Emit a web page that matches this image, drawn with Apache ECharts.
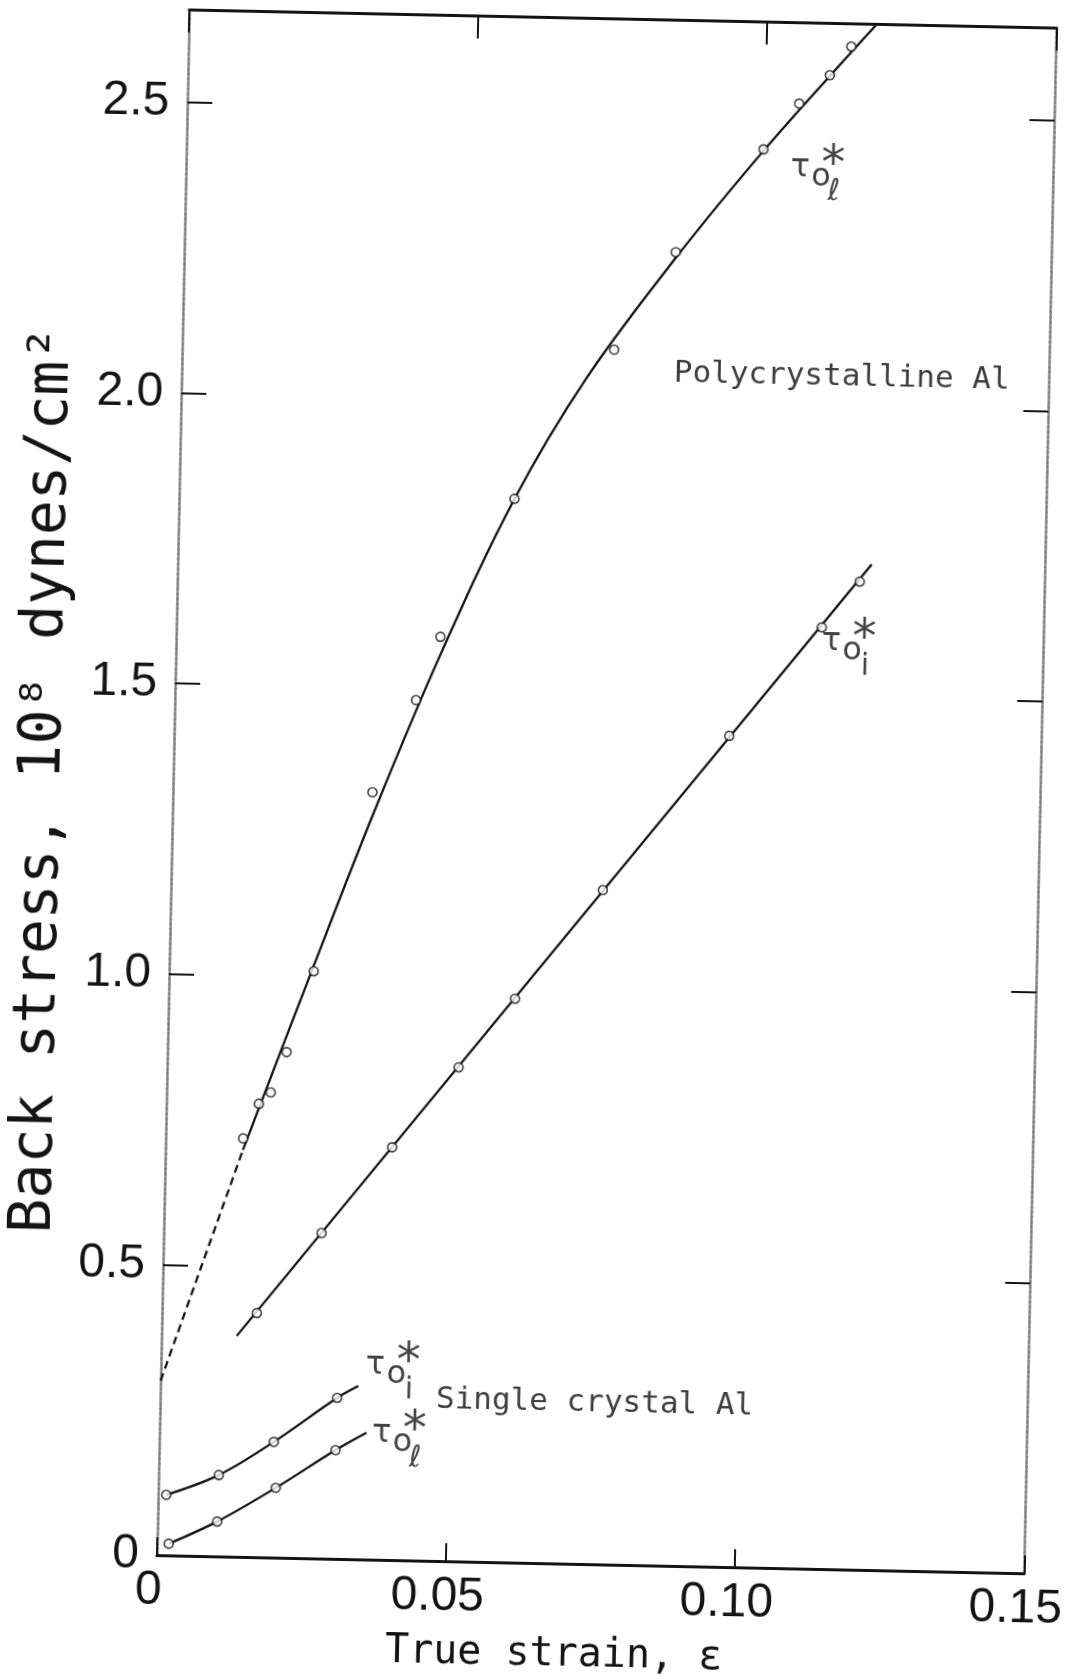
<!DOCTYPE html>
<html>
<head>
<meta charset="utf-8">
<script src="https://cdn.jsdelivr.net/npm/echarts@6/dist/echarts.min.js"></script>
<style>
  html, body { margin: 0; padding: 0; background: #fff; overflow: hidden; }
  #chart { width: 1081px; height: 1680px; transform: rotate(1.2deg); transform-origin: 50% 50%; }
</style>
</head>
<body>
<div id="chart"></div>
<script>
// Back stress against true strain for polycrystalline and single-crystal aluminium.

const xTickLabels = ['0', '0.05', '0.10', '0.15'];
const yTickLabels = ['0', '0.5', '1.0', '1.5', '2.0', '2.5'];

// Polycrystalline Al, tau*_o,l : measured points and the drawn curve
const polyLPoints = [
  [0.0134, 0.72], [0.0160, 0.78], [0.0180, 0.80], [0.0206, 0.87], [0.0250, 1.01],
  [0.0345, 1.32], [0.0417, 1.48], [0.0457, 1.59], [0.0580, 1.83], [0.0747, 2.09],
  [0.0850, 2.26], [0.0998, 2.44], [0.1058, 2.52], [0.1110, 2.57], [0.1146, 2.62]
];
const polyLLeadIn = [[0, 0.30], [0.0134, 0.70]];
const polyLCurve = [
  [0.0134, 0.70], [0.0250, 1.02], [0.0350, 1.29], [0.0460, 1.565], [0.0580, 1.83],
  [0.0700, 2.04], [0.0850, 2.25], [0.1000, 2.44], [0.1146, 2.61], [0.1190, 2.66]
];

// Polycrystalline Al, tau*_o,i
const polyIPoints = [
  [0.0164, 0.42], [0.0273, 0.56], [0.0392, 0.71], [0.0504, 0.85], [0.0599, 0.97],
  [0.0747, 1.16], [0.0960, 1.43], [0.1116, 1.62], [0.1180, 1.70]
];
const polyICurve = [[0.0130, 0.38], [0.1200, 1.73]];

// Single crystal Al, tau*_o,i
const singleIPoints = [[0.0014, 0.104], [0.0104, 0.14], [0.0198, 0.199], [0.0306, 0.277]];
const singleICurve = [[0.0014, 0.104], [0.0104, 0.14], [0.0198, 0.199], [0.0306, 0.277], [0.0342, 0.298]];

// Single crystal Al, tau*_o,l
const singleLPoints = [[0.0020, 0.020], [0.0103, 0.060], [0.0203, 0.120], [0.0305, 0.187]];
const singleLCurve = [[0.0020, 0.020], [0.0103, 0.060], [0.0203, 0.120], [0.0305, 0.187], [0.0358, 0.218]];

// Curve labels tau*_o with subscript, anchored at their top-left corner
const tauLabels = [[0.1049, 2.454, 'ℓ'], [0.1120, 1.639, 'i'], [0.0358, 0.378, 'i'], [0.0371, 0.261, 'ℓ']];
// Material labels, anchored at the left end of the text
const materialLabels = [[0.0850, 2.051, 'Polycrystalline Al'], [0.0476, 0.277, 'Single crystal Al']];

const INK = '#141414';
const SANS = 'DejaVu Sans';
const MONO = 'DejaVu Sans Mono';
const DIGITS = 'Liberation Sans';

const chart = echarts.init(document.getElementById('chart'), null, { renderer: 'canvas' });

function curve(data, dashed) {
  return {
    type: 'line', data: data, smooth: 0.35, showSymbol: false, silent: true, z: 2,
    lineStyle: { color: INK, width: 2.3, type: dashed ? [8, 5] : 'solid' }
  };
}
function markers(data) {
  return {
    type: 'scatter', data: data, symbol: 'circle', symbolSize: 9, z: 3, silent: true,
    itemStyle: { color: '#fff', borderColor: INK, borderWidth: 1.6 }
  };
}
// One glyph of the tau*_o label set, placed relative to each label anchor
function tauGlyph(text, dx, dy, size) {
  return {
    type: 'scatter', data: tauLabels, symbolSize: 1, z: 4, silent: true,
    itemStyle: { color: 'rgba(0,0,0,0)' },
    label: {
      show: true, position: [0, 0], offset: [dx, dy], align: 'center', verticalAlign: 'middle',
      color: INK, fontFamily: SANS, fontSize: size,
      formatter: p => text === null ? p.data[2] : text
    }
  };
}

const edgeLine = { show: true, onZero: false, lineStyle: { color: INK, width: 3 } };
const sideLine = { show: true, onZero: false, lineStyle: { color: '#7a7a7a', width: 2.5, type: [3, 2] } };
const tickLabel = { color: INK, fontFamily: DIGITS, fontSize: 48 };

chart.setOption({
  backgroundColor: '#fff',
  animation: false,
  grid: { left: 172, right: 19, top: 17, bottom: 117, containLabel: false },
  xAxis: [{
    type: 'value', min: 0, max: 0.15, interval: 0.05, position: 'bottom',
    name: 'True strain, ε', nameLocation: 'middle', nameGap: 72,
    nameTextStyle: { color: INK, fontFamily: MONO, fontSize: 40, padding: [0, 70, 0, 0] },
    axisLine: edgeLine,
    axisTick: { show: true, inside: true, length: 18, lineStyle: { color: INK, width: 2 } },
    axisLabel: { ...tickLabel, margin: 12, padding: [0, 16, 0, 0], formatter: v => xTickLabels[Math.round(v / 0.05)] },
    splitLine: { show: false }
  }, {
    type: 'value', min: 0, max: 0.15, interval: 0.05, position: 'top',
    axisLine: edgeLine,
    axisTick: { show: true, inside: true, length: 23, lineStyle: { color: INK, width: 2 } },
    axisLabel: { show: false }, splitLine: { show: false }
  }],
  yAxis: [{
    type: 'value', min: 0, max: 2.66, interval: 0.5, position: 'left',
    name: 'Back stress, 10⁸ dynes/cm²', nameLocation: 'middle', nameGap: 100, nameRotate: 90,
    nameTextStyle: { color: INK, fontFamily: MONO, fontSize: 58 },
    axisLine: sideLine,
    axisTick: { show: true, inside: true, length: 25, lineStyle: { color: INK, width: 2 } },
    axisLabel: {
      ...tickLabel, margin: 18,
      formatter: v => Math.abs(v / 0.5 - Math.round(v / 0.5)) < 1e-6 ? yTickLabels[Math.round(v / 0.5)] : ''
    },
    splitLine: { show: false }
  }, {
    type: 'value', min: 0, max: 2.66, interval: 0.5, position: 'right',
    axisLine: sideLine,
    axisTick: { show: true, inside: true, length: 25, lineStyle: { color: INK, width: 2 } },
    axisLabel: { show: false }, splitLine: { show: false }
  }],
  series: [
    curve(polyLLeadIn, true),
    curve(polyLCurve, false),
    markers(polyLPoints),
    curve(polyICurve, false),
    markers(polyIPoints),
    curve(singleICurve, false),
    markers(singleIPoints),
    curve(singleLCurve, false),
    markers(singleLPoints),
    tauGlyph('τ', 8, 26, 32),
    tauGlyph('o', 29, 35, 32),
    tauGlyph('*', 41, 24, 48),
    tauGlyph(null, 42, 50, 30),
    {
      type: 'scatter', data: materialLabels, symbolSize: 1, z: 4, silent: true,
      itemStyle: { color: 'rgba(0,0,0,0)' },
      label: {
        show: true, position: 'right', distance: 0, color: '#0c0c0c',
        fontFamily: MONO, fontSize: 31,
        formatter: p => p.data[2]
      }
    }
  ]
});
</script>
</body>
</html>
